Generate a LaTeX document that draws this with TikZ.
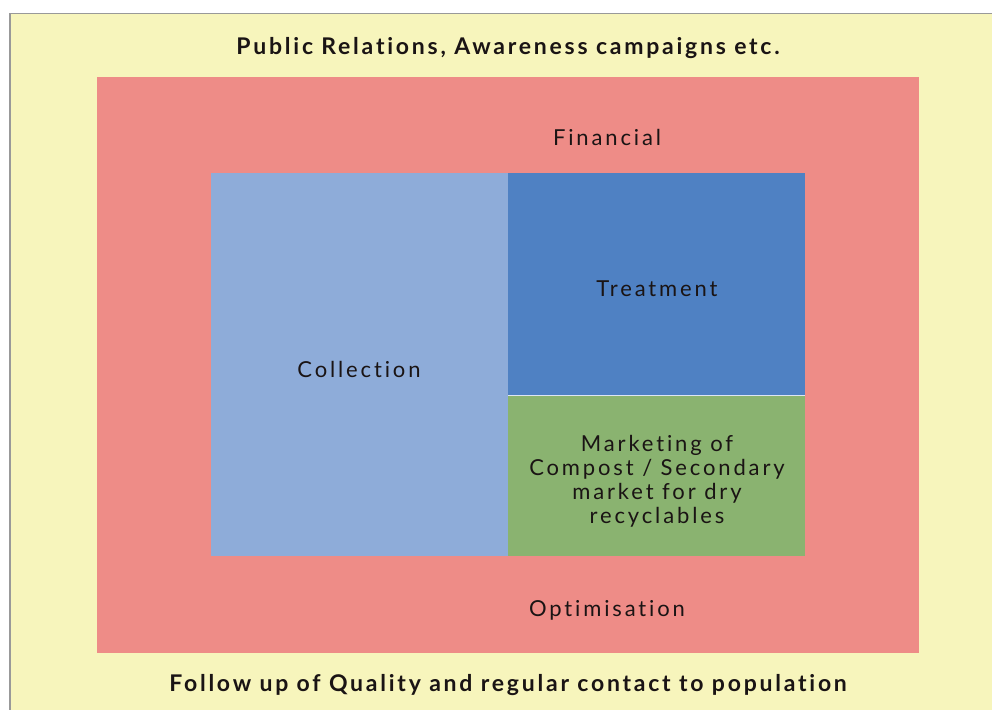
\documentclass[tikz,border=0pt]{standalone}
\usepackage{fontspec}
\setmainfont{Lato}
\newfontfamily\lt[LetterSpace=13,RawFeature=-liga]{Lato}
\newfontfamily\ltb[LetterSpace=12,RawFeature=-liga]{Lato Bold}
\definecolor{ybg}{HTML}{F7F5BC}
\definecolor{rbg}{HTML}{EE8C87}
\definecolor{lblue}{HTML}{8EACD9}
\definecolor{dblue}{HTML}{4F81C3}
\definecolor{grn}{HTML}{8AB370}
\definecolor{txt}{HTML}{1A1414}
\begin{document}
\begin{tikzpicture}[x=1pt,y=-1pt,
  lbl/.style={font=\lt\fontsize{22}{24}\selectfont, text=txt, align=center, inner sep=0pt},
  blbl/.style={font=\ltb\fontsize{23}{24}\selectfont, text=txt, align=center, inner sep=0pt},
  box/.style={draw=none, inner sep=0pt}]
\useasboundingbox (0,0) rectangle (992,709);
\clip (0,0) rectangle (992,709);
\fill[white] (0,0) rectangle (992,709);
\node[box, fill=ybg, draw=gray!80, line width=1.5pt, minimum width=1000, minimum height=710, anchor=north west] (outer) at (9,13) {};
\node[box, fill=rbg, minimum width=822, minimum height=576, anchor=north west] (mid) at (97,77) {};
\node[box, fill=lblue, minimum width=297, minimum height=383, anchor=north west] (coll) at (211,173) {};
\node[box, fill=dblue, minimum width=297, minimum height=222, anchor=north west] (treat) at (508,173) {};
\node[box, fill=grn, minimum width=297, minimum height=161, anchor=north west] (mark) at (508,395) {};
\draw[white!70!lblue, line width=0.8pt] (treat.south west) -- (treat.south east);
\node[blbl] (pr) at (508,48) {Public Relations, Awareness campaigns etc.};
\node[blbl] (fu) at (508,685) {Follow up of Quality and regular contact to population};
\node[lbl] (fin) at (607,137) {Financial};
\node[lbl] (opt) at (607,610) {Optimisation};
\node[lbl] (ct) at (359,369) {Collection};
\node[lbl] (tt) at (657,289) {Treatment};
\node[lbl] (mt) at (657,481) {Marketing of\\Compost / Secondary\\market for dry\\recyclables};
\end{tikzpicture}
\end{document}
